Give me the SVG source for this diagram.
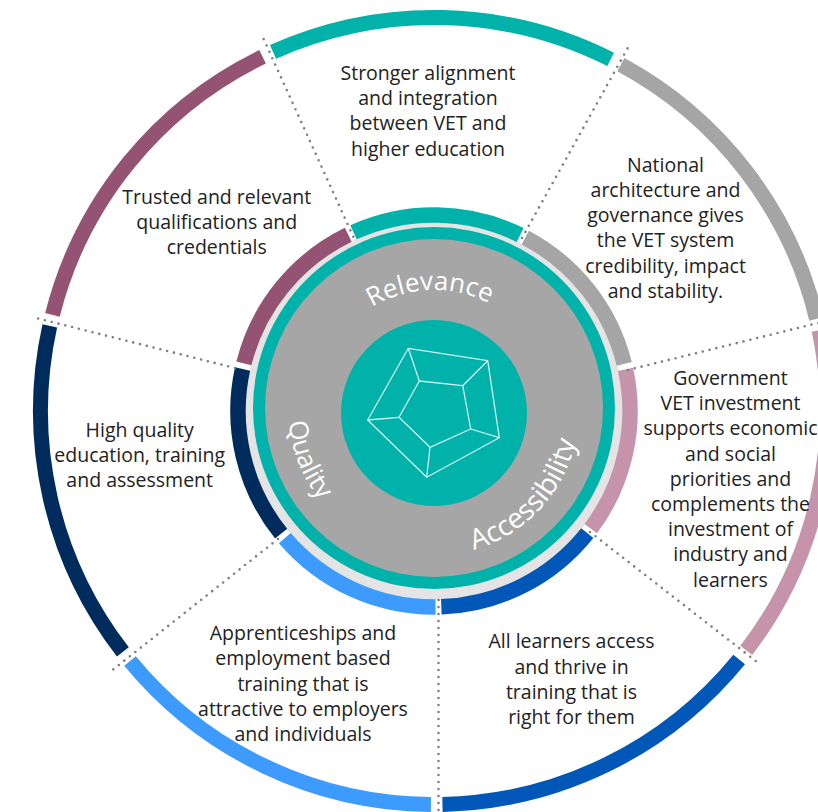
<svg xmlns="http://www.w3.org/2000/svg" width="818" height="812" viewBox="0 0 818 812">
<style>
.lbl{font-family:"Open Sans","Noto Sans","Liberation Sans",sans-serif;font-size:19.5px;fill:#222;text-anchor:middle}
.hub{font-family:"Open Sans","Noto Sans","Liberation Sans",sans-serif;font-size:26px;fill:#fff;text-anchor:middle}
.o{fill:none;stroke-width:15}
.i{fill:none;stroke-width:15.5}
.dot{fill:none;stroke:#7f7f7f;stroke-width:2.6;stroke-linecap:round;stroke-dasharray:0 7}
.wire{fill:none;stroke:#cdf1ee;stroke-width:1.3;stroke-linejoin:round}
</style>
<defs>
<path id="pRel" d="M 314 410 A 120 120 0 0 1 554 410"/>
<path id="pQual" d="M 380.49 274.16 A 146 146 0 0 0 487.51 545.84"/>
<path id="pAcc" d="M 334.5 515.8 A 145 145 0 0 0 533.5 304.2"/>
</defs>
<rect width="818" height="812" fill="#fff"/>

<g id="hub">
<circle cx="434" cy="411" r="189" fill="#e4e4e4"/>
<circle cx="434" cy="408" r="181" fill="#00b2a9"/>
<circle cx="434" cy="408" r="169" fill="#a6a6a6"/>
<circle cx="434" cy="413" r="93" fill="#00b2a9"/>
<polygon class="wire" points="408.3,348.3 487.7,360.7 499.3,437.7 426.7,477.3 367.7,420"/>
<polygon class="wire" points="419.3,381 462.7,385.7 470.7,429 430,447.3 399,417.3"/>
<path class="wire" d="M408.3 348.3 L419.3 381 M487.7 360.7 L462.7 385.7 M499.3 437.7 L470.7 429 M426.7 477.3 L430 447.3 M367.7 420 L399 417.3"/>
<text class="hub"><textPath href="#pRel" startOffset="184.3">Relevance</textPath></text>
<text class="hub"><textPath href="#pQual" startOffset="50%">Quality</textPath></text>
<text class="hub" style="font-size:28px"><textPath href="#pAcc" startOffset="50%">Accessibility</textPath></text>
</g>

<g id="seg-alignment">
<circle class="i" cx="434" cy="411" r="196" stroke="#00b2a9" stroke-dasharray="172.1 2000" transform="rotate(245.75 434 411)"/>
<circle class="o" cx="434" cy="411" r="393.5" stroke="#00b2a9" stroke-dasharray="348.9 3000" transform="rotate(245.85 434 411)"/>
<text class="lbl"><tspan x="428" y="80">Stronger alignment</tspan><tspan x="428" y="105.2">and integration</tspan><tspan x="428" y="130.4">between VET and</tspan><tspan x="428" y="155.6">higher education</tspan></text>
</g>

<g id="seg-governance">
<circle class="i" cx="434" cy="411" r="196" stroke="#a5a5a5" stroke-dasharray="165.2 2000" transform="rotate(-62.25 434 411)"/>
<circle class="o" cx="434" cy="411" r="393.5" stroke="#a5a5a5" stroke-dasharray="330.3 3000" transform="rotate(-61.65 434 411)"/>
<text class="lbl"><tspan x="665.5" y="171.7">National</tspan><tspan x="665.5" y="196.9">architecture and</tspan><tspan x="665.5" y="222.1">governance gives</tspan><tspan x="665.5" y="247.3">the VET system</tspan><tspan x="665.5" y="272.5">credibility, impact</tspan><tspan x="665.5" y="297.7">and stability.</tspan></text>
</g>

<g id="seg-investment">
<circle class="i" cx="434" cy="411" r="196" stroke="#c594ab" stroke-dasharray="168 2000" transform="rotate(-12.25 434 411)"/>
<circle class="o" cx="434" cy="411" r="393.5" stroke="#c594ab" stroke-dasharray="338.6 3000" transform="rotate(-11.85 434 411)"/>
<text class="lbl"><tspan x="730.5" y="385">Government</tspan><tspan x="730.5" y="410.2">VET investment</tspan><tspan x="730.5" y="435.4">supports economic</tspan><tspan x="730.5" y="460.6">and social</tspan><tspan x="730.5" y="485.8">priorities and</tspan><tspan x="730.5" y="511">complements the</tspan><tspan x="730.5" y="536.2">investment of</tspan><tspan x="730.5" y="561.4">industry and</tspan><tspan x="730.5" y="586.6">learners</tspan></text>
</g>

<g id="seg-access">
<circle class="i" cx="434" cy="411" r="196" stroke="#0057b7" stroke-dasharray="168.6 2000" transform="rotate(38.55 434 411)"/>
<circle class="o" cx="434" cy="411" r="393.5" stroke="#0057b7" stroke-dasharray="340.6 3000" transform="rotate(39.15 434 411)"/>
<text class="lbl"><tspan x="571.5" y="648.3">All learners access</tspan><tspan x="571.5" y="673.5">and thrive in</tspan><tspan x="571.5" y="698.7">training that is</tspan><tspan x="571.5" y="723.9">right for them</tspan></text>
</g>

<g id="seg-apprenticeships">
<circle class="i" cx="434" cy="411" r="196" stroke="#3d9bfd" stroke-dasharray="171 2000" transform="rotate(89.55 434 411)"/>
<circle class="o" cx="434" cy="411" r="393.5" stroke="#3d9bfd" stroke-dasharray="344.1 3000" transform="rotate(90.45 434 411)"/>
<text class="lbl"><tspan x="303" y="640">Apprenticeships and</tspan><tspan x="303" y="665.3">employment based</tspan><tspan x="303" y="690.6">training that is</tspan><tspan x="303" y="715.9">attractive to employers</tspan><tspan x="303" y="741.2">and individuals</tspan></text>
</g>

<g id="seg-quality">
<circle class="i" cx="434" cy="411" r="196" stroke="#002c5d" stroke-dasharray="174.8 2000" transform="rotate(141.25 434 411)"/>
<circle class="o" cx="434" cy="411" r="393.5" stroke="#002c5d" stroke-dasharray="344.8 3000" transform="rotate(142.25 434 411)"/>
<text class="lbl"><tspan x="139.7" y="436.5">High quality</tspan><tspan x="139.7" y="461.7">education, training</tspan><tspan x="139.7" y="486.9">and assessment</tspan></text>
</g>

<g id="seg-qualifications">
<circle class="i" cx="434" cy="411" r="196" stroke="#955373" stroke-dasharray="171 2000" transform="rotate(194.05 434 411)"/>
<circle class="o" cx="434" cy="411" r="393.5" stroke="#955373" stroke-dasharray="343.4 3000" transform="rotate(194.15 434 411)"/>
<text class="lbl"><tspan x="216.7" y="203.5">Trusted and relevant</tspan><tspan x="216.7" y="228.7">qualifications and</tspan><tspan x="216.7" y="253.9">credentials</tspan></text>
</g>

<g id="connectors">
<line class="dot" x1="353.3" y1="236.7" x2="261" y2="33.3"/>
<line class="dot" x1="522" y1="238" x2="630" y2="44"/>
<line class="dot" x1="628" y1="370" x2="820" y2="322.5"/>
<line class="dot" x1="590" y1="532" x2="757" y2="662"/>
<line class="dot" x1="438.5" y1="600" x2="438.5" y2="814"/>
<line class="dot" x1="278" y1="539" x2="110" y2="672"/>
<line class="dot" x1="235" y1="368" x2="32" y2="317"/>
</g>
</svg>
